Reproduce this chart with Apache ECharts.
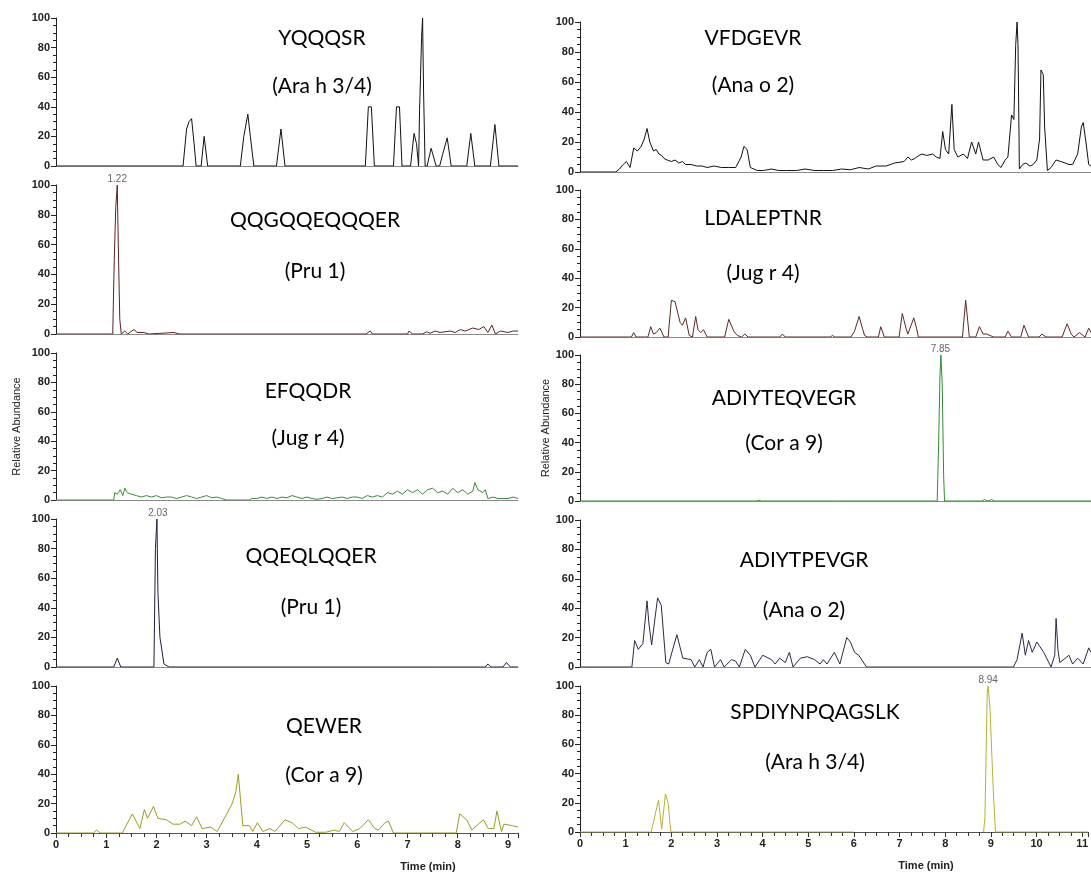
<!DOCTYPE html>
<html>
<head>
<meta charset="utf-8">
<title>SRM chromatograms</title>
<script src="https://cdn.jsdelivr.net/npm/echarts@6/dist/echarts.min.js"></script>
<style>
  html, body { margin: 0; padding: 0; background: #fff; }
  #main { width: 1091px; height: 875px; }
</style>
</head>
<body>
<div id="main"></div>
<script>
// peptide / allergen labels, left column then right column
var peptides = ['YQQQSR', 'QQGQQEQQQER', 'EFQQDR', 'QQEQLQQER', 'QEWER',
  'VFDGEVR', 'LDALEPTNR', 'ADIYTEQVEGR', 'ADIYTPEVGR', 'SPDIYNPQAGSLK'];
var allergens = ['(Ara h 3/4)', '(Pru 1)', '(Jug r 4)', '(Pru 1)', '(Cor a 9)',
  '(Ana o 2)', '(Jug r 4)', '(Cor a 9)', '(Ana o 2)', '(Ara h 3/4)'];

// [time (min), relative abundance]
var yqqqsr = [[0,0],[2.53,0],[2.6,25],[2.65,30],[2.7,32],[2.75,15],[2.79,0],[2.89,0],[2.95,20],[3.02,0],
  [3.67,0],[3.74,20],[3.82,35],[3.87,20],[3.94,0],[4.39,0],[4.48,25],[4.56,0],[6.16,0],[6.22,40],[6.28,40],[6.34,0],
  [6.72,0],[6.78,40],[6.84,40],[6.89,0],[7.06,0],[7.13,22],[7.18,15],[7.22,0],[7.24,38],[7.26,62],[7.28,87],[7.3,100],
  [7.32,50],[7.35,0],[7.39,0],[7.47,12],[7.57,0],[7.64,0],[7.7,8],[7.79,19],[7.87,0],[8.18,0],[8.26,22],[8.34,0],
  [8.65,0],[8.74,28],[8.82,0],[9.2,0]];
var qqgqqeqqqer = [[0,0],[1.13,0],[1.16,50],[1.19,85],[1.22,100],[1.24,60],[1.27,10],[1.3,0],[1.37,2],[1.43,0],
  [1.55,3],[1.62,1],[1.75,1],[1.85,0],[2.35,1],[2.45,0],[6.17,0],[6.26,2],[6.3,0],[7.0,0],[7.03,2],[7.1,0],[7.3,0],
  [7.38,1.5],[7.45,0.5],[7.55,2],[7.65,1],[7.85,2],[7.95,1],[8.05,3],[8.15,2],[8.3,4],[8.42,3],[8.52,5],[8.6,1],
  [8.68,6],[8.75,0],[8.85,2],[9.0,1],[9.1,2],[9.2,2]];
var efqqdr = [[0,0],[1.15,0],[1.17,5],[1.22,4],[1.28,7],[1.33,3],[1.37,8],[1.42,5],[1.5,4],[1.6,3],[1.7,2],[1.8,3],
  [1.9,2],[2.0,3],[2.1,1.5],[2.2,2],[2.3,2],[2.4,1],[2.5,2],[2.6,3],[2.7,2],[2.8,1],[2.9,2],[3.0,3],[3.1,1.5],[3.2,2],
  [3.3,1],[3.4,0],[3.85,0],[3.9,1],[4.0,1],[4.1,2],[4.2,1],[4.3,2],[4.4,1],[4.5,2],[4.6,1.5],[4.7,3],[4.8,2],[4.9,1],
  [5.0,2],[5.1,1],[5.2,0.5],[5.3,1],[5.4,2],[5.5,1],[5.6,1.5],[5.7,2],[5.8,1],[5.9,2],[6.0,2],[6.1,1],[6.2,3],[6.3,2],
  [6.4,3],[6.5,2],[6.6,5],[6.7,4],[6.8,6],[6.9,4],[7.0,7],[7.1,5],[7.2,7],[7.3,4],[7.4,7],[7.5,8],[7.6,5],[7.7,6],
  [7.8,4],[7.9,8],[8.0,5],[8.1,7],[8.2,4],[8.3,6],[8.34,12],[8.4,7],[8.5,5],[8.55,7],[8.6,1],[8.7,2],[8.8,1],[8.9,1],
  [9.0,1],[9.1,2],[9.2,1]];
var qqeqlqqer = [[0,0],[1.15,0],[1.22,6],[1.29,0],[1.95,0],[1.98,80],[2.01,100],[2.03,50],[2.07,20],[2.15,2],[2.25,0],
  [7.5,0],[7.52,1],[7.55,0],[8.55,0],[8.6,2],[8.66,0],[8.9,0],[8.97,3],[9.05,0],[9.2,0]];
var qewer = [[0,0],[0.75,0],[0.81,2],[0.88,0],[1.32,0],[1.52,13],[1.67,3],[1.76,16],[1.82,10],[1.94,18],[2.03,10],
  [2.2,9],[2.33,6],[2.47,6],[2.57,8],[2.7,5],[2.8,11],[2.91,3],[3.08,4],[3.21,1],[3.51,20],[3.58,28],[3.63,40],[3.72,5],
  [3.85,5],[3.92,1],[4.01,7],[4.12,1],[4.26,3],[4.36,1],[4.56,9],[4.7,7],[4.83,3],[4.97,4],[5.17,0.5],[5.37,0.5],
  [5.54,2],[5.64,1],[5.74,7],[5.91,1],[6.05,3],[6.22,9],[6.35,3],[6.42,2],[6.55,7],[6.62,8],[6.72,0],[7.97,0],[8.04,13],
  [8.18,9],[8.28,2],[8.41,6],[8.51,9],[8.61,3],[8.72,3],[8.78,15],[8.87,1],[8.92,6],[9.09,5],[9.2,4]];

var vfdgevr = [[0,0],[0.78,0],[0.86,2],[0.94,5],[1.01,7],[1.09,3],[1.17,16],[1.25,14],[1.33,17],[1.4,22],[1.46,29],
  [1.52,20],[1.6,14],[1.66,15],[1.72,12],[1.78,11],[1.83,9],[1.9,8],[1.99,7],[2.07,8],[2.15,6],[2.23,7],[2.3,5],
  [2.42,5],[2.54,4],[2.66,4],[2.77,3],[2.92,4],[3.08,3],[3.24,3],[3.39,3],[3.51,10],[3.57,17],[3.64,15],[3.71,3],
  [3.86,1],[4.0,1],[4.17,2],[4.33,1],[4.5,1],[4.72,1],[4.9,2],[5.11,1],[5.3,1],[5.5,1],[5.7,2],[5.89,1.5],[6.08,3],
  [6.28,2],[6.45,4],[6.67,4],[6.85,6],[7.06,7],[7.14,10],[7.22,8],[7.29,9],[7.38,11],[7.45,12],[7.55,11],[7.68,12],
  [7.76,10],[7.84,9],[7.9,27],[7.96,15],[8.03,12],[8.1,45],[8.15,15],[8.23,10],[8.35,12],[8.44,9],[8.53,20],[8.62,12],
  [8.68,20],[8.78,8],[8.89,8],[9.01,10],[9.1,5],[9.17,3],[9.26,8],[9.32,10],[9.4,38],[9.45,35],[9.49,85],[9.52,100],
  [9.54,85],[9.57,2],[9.64,5],[9.71,6],[9.8,4],[9.87,5],[9.95,8],[10.01,22],[10.04,68],[10.09,65],[10.12,30],
  [10.18,1],[10.26,3],[10.37,8],[10.47,7],[10.57,6],[10.65,5],[10.73,5],[10.84,12],[10.92,30],[10.96,33],[11.02,20],
  [11.08,5],[11.13,4]];
var ldaleptnr = [[0,0],[1.12,0],[1.17,3],[1.22,0],[1.48,0],[1.54,7],[1.6,2],[1.66,3],[1.74,6],[1.83,0],[1.92,0],
  [1.99,25],[2.07,24],[2.18,10],[2.23,8],[2.3,13],[2.38,1],[2.45,0],[2.52,14],[2.57,5],[2.63,3],[2.69,5],[2.77,0],
  [3.15,0],[3.24,12],[3.35,4],[3.43,1],[3.52,0],[3.59,2],[3.66,0],[3.86,0],[3.9,1],[3.95,0],[4.35,0],[4.41,2],[4.47,0],
  [5.45,0],[5.5,1],[5.55,0],[5.9,0],[5.98,4],[6.08,14],[6.15,6],[6.2,1],[6.26,0],[6.5,0],[6.55,7],[6.63,0],[6.95,0],
  [7.02,16],[7.1,6],[7.14,2],[7.27,13],[7.33,6],[7.37,0],[8.33,0],[8.4,25],[8.48,0],[8.62,0],[8.7,7],[8.78,2],
  [8.86,2],[8.93,1],[9.01,0],[9.26,0],[9.32,4],[9.4,0],[9.6,0],[9.67,8],[9.77,0],[10.0,0],[10.06,2],[10.15,0],
  [10.5,0],[10.61,9],[10.7,2],[10.76,0],[10.88,3],[11.0,0],[11.08,6],[11.13,3]];
var adiyteqvegr = [[0,0],[3.85,0],[3.9,0.5],[3.95,0],[7.78,0],[7.81,38],[7.84,85],[7.86,100],[7.89,80],[7.92,18],
  [7.94,0],[8.38,0],[8.42,0.5],[8.46,0],[8.75,0],[8.81,1],[8.88,0],[8.97,1],[9.02,0],[11.13,0]];
var adiytpevgr = [[0,0],[1.13,0],[1.19,18],[1.27,12],[1.37,16],[1.46,45],[1.5,30],[1.56,15],[1.69,47],[1.77,42],
  [1.87,3],[1.93,2],[2.11,22],[2.24,6],[2.42,5],[2.5,0],[2.6,5],[2.68,0],[2.77,10],[2.85,12],[2.93,0],[3.06,5],
  [3.14,0],[3.3,5],[3.39,4],[3.47,0],[3.6,12],[3.71,8],[3.81,0],[3.98,8],[4.17,5],[4.25,2],[4.35,6],[4.47,3],
  [4.56,10],[4.64,0],[4.8,6],[4.95,7],[5.11,5],[5.23,2],[5.3,5],[5.38,2],[5.54,10],[5.66,2],[5.81,20],[5.89,17],
  [5.98,10],[6.07,8],[6.24,0],[9.44,0],[9.52,5],[9.63,23],[9.7,8],[9.77,18],[9.85,10],[9.95,17],[10.1,10],[10.26,0],
  [10.34,8],[10.37,33],[10.41,12],[10.45,3],[10.65,8],[10.73,2],[10.84,6],[10.96,2],[11.08,13],[11.13,10]];
var spdiynpqagslk = [[0,0],[1.56,0],[1.72,22],[1.79,2],[1.87,26],[1.93,20],[1.99,0],[6.0,0],[7.4,'-'],
  [8.84,0],[8.87,10],[8.92,95],[8.94,100],[8.98,85],[9.05,30],[9.1,0],[11.13,0]];

var traces = [yqqqsr, qqgqqeqqqer, efqqdr, qqeqlqqer, qewer,
  vfdgevr, ldaleptnr, adiyteqvegr, adiytpevgr, spdiynpqagslk];
var traceColors = ['#111111', '#5c2222', '#3d8a3d', '#1e1e3e', '#9c9c22',
  '#111111', '#5c2626', '#2f8f2f', '#2a2a46', '#b4b42c'];
// retention time labels above apex
var apexTimes = [null, 1.22, null, 2.03, null, null, null, 7.85, null, 8.94];

// panel layout
var gridTop = [18, 185, 353, 519, 686, 22, 190, 355, 520, 686];
var gridHeight = [148, 149, 147, 148, 147, 150, 147, 146, 147, 146];
var titleX = [322, 315, 308, 311, 324, 753, 763, 784, 804, 815];
var titleY1 = [38, 220, 391, 556, 726, 38, 218, 398, 560, 712];
var titleY2 = [86, 271, 438, 607, 775, 85, 273, 443, 610, 762];

var chart = echarts.init(document.getElementById('main'), null, { renderer: 'canvas' });

var grids = [], xAxes = [], yAxes = [], seriesList = [], texts = [];
for (var i = 0; i < 10; i++) {
  var isLeft = i < 5;
  var isBottom = i === 4 || i === 9;
  var isMiddle = i === 2 || i === 7;
  grids.push(isLeft
    ? { left: 56, width: 462, top: gridTop[i], height: gridHeight[i] }
    : { left: 580, width: 511, top: gridTop[i], height: gridHeight[i] });
  xAxes.push({
    type: 'value',
    gridIndex: i,
    min: 0,
    max: isLeft ? 9.2 : 11.13,
    interval: 1,
    splitLine: { show: false },
    axisLine: { show: true, onZero: false, lineStyle: { color: isBottom ? '#555' : '#8a8a8a', width: 1 } },
    axisTick: { show: isBottom, length: 5, lineStyle: { color: '#333' } },
    minorTick: { show: isBottom, splitNumber: 4, length: 4, lineStyle: { color: '#333' } },
    axisLabel: {
      show: isBottom, showMaxLabel: false, margin: 6,
      fontSize: 11, fontWeight: 'bold', color: '#222', fontFamily: 'Liberation Sans'
    }
  });
  yAxes.push({
    type: 'value',
    gridIndex: i,
    min: 0,
    max: 100,
    interval: 20,
    name: isMiddle ? 'Relative Abundance' : '',
    nameLocation: 'middle',
    nameGap: isLeft ? 34 : 28,
    nameTextStyle: { fontSize: 11, color: '#222', fontFamily: 'Liberation Sans' },
    splitLine: { show: false },
    axisLine: { show: true, lineStyle: { color: '#222', width: 1 } },
    axisTick: { show: true, length: 5, lineStyle: { color: '#222' } },
    minorTick: { show: true, splitNumber: 4, length: 3, lineStyle: { color: '#222' } },
    axisLabel: { margin: 6, fontSize: 11, fontWeight: 'bold', color: '#222', fontFamily: 'Liberation Sans' }
  });
  var s = {
    type: 'line',
    xAxisIndex: i,
    yAxisIndex: i,
    data: traces[i],
    showSymbol: false,
    connectNulls: false,
    lineStyle: { color: traceColors[i], width: 1 },
    itemStyle: { color: traceColors[i] },
    z: 3
  };
  if (apexTimes[i] !== null) {
    s.markPoint = {
      symbol: 'circle',
      symbolSize: 0,
      label: { show: true, position: 'top', distance: 1, fontSize: 10, color: '#666',
        fontFamily: 'Liberation Sans', formatter: function (p) { return p.value.toFixed(2); } },
      data: [{ coord: [apexTimes[i], 100], value: apexTimes[i] }]
    };
  }
  seriesList.push(s);

  texts.push({ type: 'text', x: titleX[i], y: titleY1[i],
    style: { text: peptides[i], fill: '#000', font: '21px Lato', align: 'center', verticalAlign: 'middle' } });
  texts.push({ type: 'text', x: titleX[i], y: titleY2[i],
    style: { text: allergens[i], fill: '#000', font: '21px Lato', align: 'center', verticalAlign: 'middle' } });
}
texts.push({ type: 'text', x: 428, y: 867,
  style: { text: 'Time (min)', fill: '#222', font: 'bold 11px Liberation Sans', align: 'center', verticalAlign: 'middle' } });
texts.push({ type: 'text', x: 926, y: 866,
  style: { text: 'Time (min)', fill: '#222', font: 'bold 11px Liberation Sans', align: 'center', verticalAlign: 'middle' } });

chart.setOption({
  animation: false,
  backgroundColor: '#fff',
  grid: grids,
  xAxis: xAxes,
  yAxis: yAxes,
  series: seriesList,
  graphic: texts
});
</script>
</body>
</html>
